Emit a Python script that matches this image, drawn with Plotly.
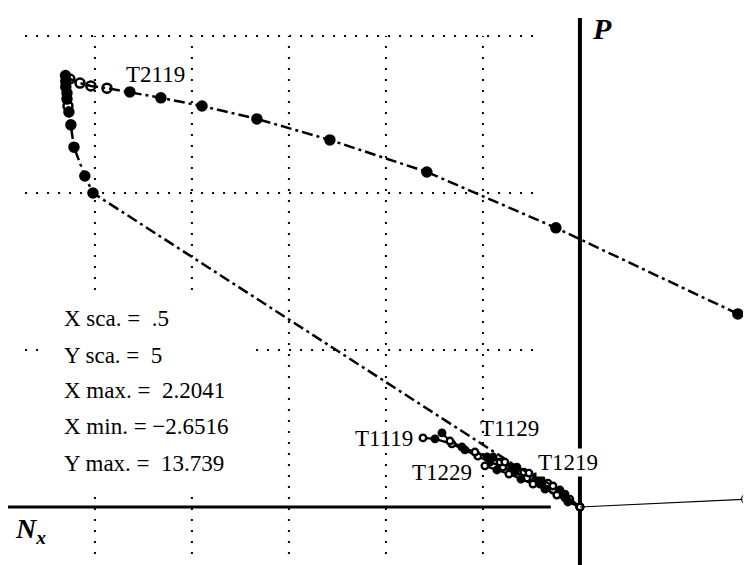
import plotly.graph_objects as go

# ---------------- data (N_x, P) ----------------
t2119_x = [0.814, -0.124, -0.789, -1.289, -1.665, -1.948, -2.160, -2.320, -2.438, -2.521,
           -2.577, -2.629, -2.6516, -2.650, -2.650, -2.644, -2.644, -2.639, -2.634, -2.624,
           -2.608, -2.552, -2.510, -0.010]
t2119_y = [6.15, 8.89, 10.67, 11.69, 12.36, 12.77, 13.03, 13.22, 13.34, 13.41,
           13.50, 13.63, 13.739, 13.55, 13.38, 13.18, 12.99, 12.77, 12.58, 12.17,
           11.46, 10.54, 10.00, 0.03]
t2119_open = [0, 0, 0, 0, 0, 0, 0, 0, 1, 1, 1, 1, 0, 0, 0, 0, 0, 1, 0, 0, 0, 0, 0, 0]

t1119_x = [-0.809, -0.747, -0.660, -0.593, -0.526, -0.464, -0.397, -0.335, -0.273, -0.206, -0.139, -0.077, 0.0]
t1119_y = [2.20, 2.17, 2.01, 1.82, 1.62, 1.43, 1.27, 1.11, 0.92, 0.73, 0.54, 0.29, 0.0]

t1129_x = [-0.711, -0.670, -0.608, -0.541, -0.479, -0.412, -0.351, -0.289, -0.227, -0.165, -0.103, -0.052, 0.0]
t1129_y = [2.36, 2.10, 1.91, 1.75, 1.59, 1.43, 1.27, 1.11, 0.96, 0.76, 0.54, 0.25, 0.0]

t1229_x = [-0.490, -0.428, -0.366, -0.304, -0.242, -0.180, -0.119, -0.062, 0.0]
t1229_y = [1.31, 1.18, 1.05, 0.89, 0.73, 0.57, 0.38, 0.16, 0.0]

t1219_x = [-0.448, -0.387, -0.325, -0.263, -0.201, -0.139, -0.077, 0.0]
t1219_y = [1.59, 1.43, 1.27, 1.08, 0.89, 0.67, 0.41, 0.0]

tail_x = [0.0, 0.856]
tail_y = [0.0, 0.25]

grid_x = [-2.5, -2.0, -1.5, -1.0, -0.5]
grid_y = [5, 10, 15]

info_lines = ["X sca. =\u00a0\u00a0.5", "Y sca. =\u00a0\u00a05", "X max. =\u00a0\u00a02.2041",
              "X min. = \u22122.6516", "Y max. =\u00a0\u00a013.739"]

# ---------------- figure ----------------
W, H = 751, 565
OFF = 8  # page body margin
XR = [-2.948, 0.923]
YR = [-2.102, 15.892]
FONT = "Liberation Serif, Times New Roman, serif"

fig = go.Figure()

sym = ["circle-open" if o else "circle" for o in t2119_open]
sizes = [9] * (len(t2119_x) - 1) + [0]
fig.add_trace(go.Scatter(
    x=t2119_x, y=t2119_y, mode="lines+markers",
    line=dict(color="black", width=2.5, dash="11px,4px,3px,4px"),
    marker=dict(color="black", size=sizes, symbol=sym, opacity=1,
                line=dict(color="black", width=2.5)),
    showlegend=False, hoverinfo="skip"))

cluster = [(t1119_x, t1119_y), (t1129_x, t1129_y), (t1229_x, t1229_y), (t1219_x, t1219_y)]
for k, (xs, ys) in enumerate(cluster):
    fills = ["white" if (i + k) % 2 == 0 else "black" for i in range(len(xs))]
    fig.add_trace(go.Scatter(
        x=xs, y=ys, mode="lines+markers",
        line=dict(color="black", width=2.2),
        marker=dict(color=fills, size=6.5, symbol="circle", opacity=1,
                    line=dict(color="black", width=2.4)),
        showlegend=False, hoverinfo="skip"))

fig.add_trace(go.Scatter(
    x=tail_x, y=tail_y, mode="lines+markers",
    line=dict(color="black", width=1.2),
    marker=dict(color="white", size=[0, 9], line=dict(color="black", width=1.5)),
    showlegend=False, hoverinfo="skip"))

shapes = []
for gx in grid_x:
    shapes.append(dict(type="line", xref="x", yref="y", x0=gx, x1=gx, y0=-1.5, y1=15,
                       line=dict(color="black", width=2, dash="2px,9px"), layer="below"))
for gy in grid_y:
    shapes.append(dict(type="line", xref="x", yref="y", x0=-2.86, x1=-0.22, y0=gy, y1=gy,
                       line=dict(color="black", width=2, dash="2px,9px"), layer="below"))
# white box behind the info text (data-referenced so it sits above the grid)
shapes.append(dict(type="rect", xref="x", yref="y",
                   x0=-2.784, x1=-1.701, y0=0.478, y1=6.75,
                   fillcolor="white", line=dict(width=0), layer="below"))
# axes
shapes.append(dict(type="line", xref="x", yref="y", x0=-2.964, x1=-0.15, y0=0, y1=0,
                   line=dict(color="black", width=3), layer="below"))
shapes.append(dict(type="line", xref="x", yref="y", x0=0, x1=0, y0=-2.2, y1=15.57,
                   line=dict(color="black", width=4), layer="below"))

ann = []
def label(text, px, py, xanchor="center", size=23, bg=None, bold=False):
    f = dict(family=FONT, size=size, color="black")
    if bold:
        f.update(weight="bold", style="italic")
    d = dict(text=text, xref="paper", yref="paper",
             x=(px - OFF) / W, y=1 - (py - OFF) / H,
             xanchor=xanchor, yanchor="middle", showarrow=False, font=f)
    if bg:
        d["bgcolor"] = bg
    ann.append(d)

label("T2119", 155, 74)
label("T1119", 415, 438, xanchor="right")
label("T1129", 478, 428, xanchor="left")
label("T1229", 410, 472, xanchor="left")
label("T1219", 536, 462, xanchor="left", bg="white")
label("P", 590, 28, xanchor="left", size=30, bold=True)
label("N<sub>x</sub>", 13, 530, xanchor="left", size=28, bold=True)
for t, yy in zip(info_lines, [318, 355, 390, 426, 463]):
    label(t, 62, yy, xanchor="left", size=23)

fig.update_layout(
    width=W, height=H, margin=dict(l=0, r=0, t=0, b=0),
    paper_bgcolor="white", plot_bgcolor="white",
    xaxis=dict(range=XR, visible=False, fixedrange=True),
    yaxis=dict(range=YR, visible=False, fixedrange=True),
    shapes=shapes, annotations=ann, showlegend=False)

fig.write_html("out.html")
